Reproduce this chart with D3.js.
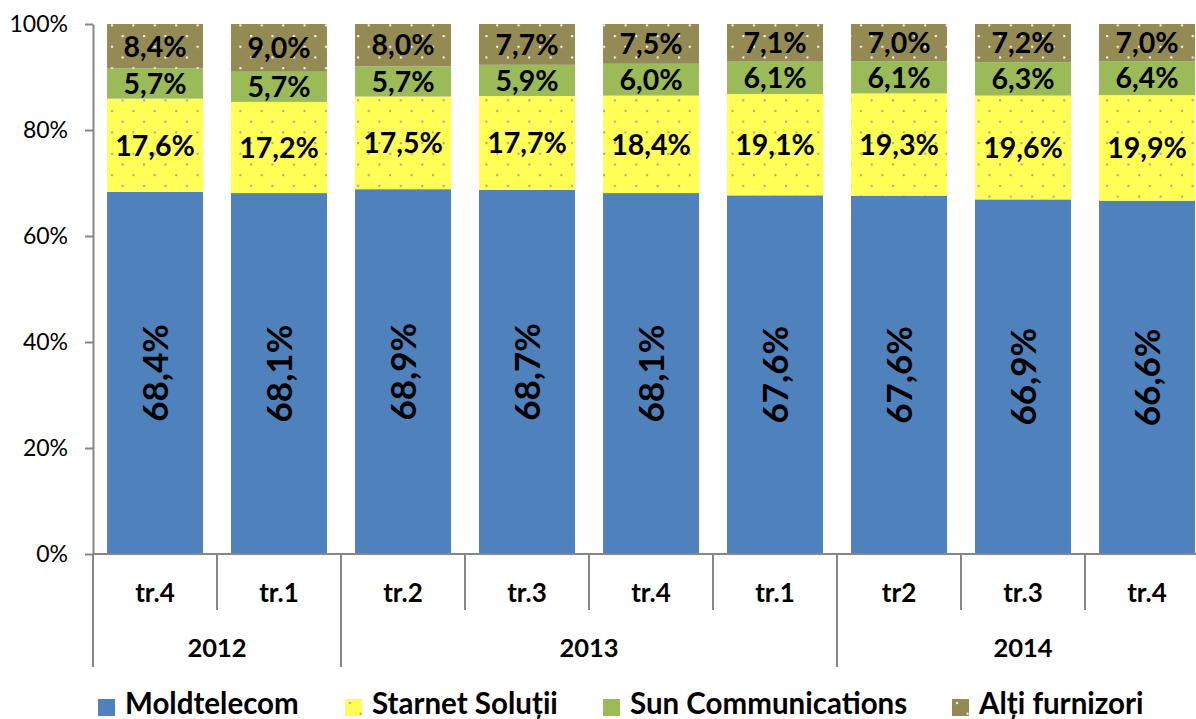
<!DOCTYPE html>
<html>
<head>
<meta charset="utf-8">
<script src="https://cdn.jsdelivr.net/npm/d3@7"></script>
<style>
  body { margin: 0; background: #fff; }
  svg { display: block; font-family: Lato, 'Noto Sans', sans-serif; }
</style>
</head>
<body>
<div id="chart"></div>
<script>

var quarters = ['tr.4', 'tr.1', 'tr.2', 'tr.3', 'tr.4', 'tr.1', 'tr2', 'tr.3', 'tr.4'];
var yearLabels = ['2012', '2013', '2014'];
var yearCounts = [2, 4, 3];

var seriesNames = ['Moldtelecom', 'Starnet Soluții', 'Sun Communications', 'Alți furnizori'];
var moldtelecom = [68.4, 68.1, 68.9, 68.7, 68.1, 67.6, 67.6, 66.9, 66.6];
var starnet = [17.6, 17.2, 17.5, 17.7, 18.4, 19.1, 19.3, 19.6, 19.9];
var sun = [5.7, 5.7, 5.7, 5.9, 6.0, 6.1, 6.1, 6.3, 6.4];
var altii = [8.4, 9.0, 8.0, 7.7, 7.5, 7.1, 7.0, 7.2, 7.0];
var yTicks = [0, 0.2, 0.4, 0.6, 0.8, 1];

var settings = {
  width: 1196,
  height: 719,
  left: 93,
  right: 1209,
  top: 24,
  bottom: 554,
  colors: ['#4f81bd', '#ffff55', '#9bbb59', '#948a54'],
  axisColor: '#868686'
};

function translate(x, y) {
  return 'translate(' + x + ',' + y + ')';
}

function fmt(v) {
  return v.toFixed(1).replace('.', ',') + '%';
}

var svg = d3.select('#chart').append('svg')
  .attr('width', settings.width)
  .attr('height', settings.height);

// dotted fills like the excel patterns
var defs = svg.append('defs');

function dotPattern(id, bg, dot) {
  var p = defs.append('pattern')
    .attr('id', id)
    .attr('patternUnits', 'userSpaceOnUse')
    .attr('width', 21.4)
    .attr('height', 21.4);
  p.append('rect').attr('width', 21.4).attr('height', 21.4).attr('fill', bg);
  p.append('rect').attr('x', 4).attr('y', 3).attr('width', 2).attr('height', 2).attr('fill', dot);
  p.append('rect').attr('x', 14.7).attr('y', 13.7).attr('width', 2).attr('height', 2).attr('fill', dot);
}

dotPattern('dots-yellow', settings.colors[1], '#a0a0a0');
dotPattern('dots-olive', settings.colors[3], '#ffffff');

var fills = [settings.colors[0], 'url(#dots-yellow)', settings.colors[2], 'url(#dots-olive)'];

var rows = quarters.map(function(q, i) {
  var vals = [moldtelecom[i], starnet[i], sun[i], altii[i]];
  var r = { 'idx': i, 'quarter': q, 'total': d3.sum(vals) };
  vals.forEach(function(v, k) { r['s' + k] = v; });
  return r;
});

var keys = ['s0', 's1', 's2', 's3'];
var layers = d3.stack().keys(keys)
  .value(function(d, key) { return d[key] / d.total; })(rows);

var x = d3.scaleBand()
  .domain(d3.range(quarters.length))
  .range([settings.left, settings.right])
  .paddingInner(0.226)
  .paddingOuter(0.113);

var y = d3.scaleLinear()
  .domain([0, 1])
  .range([settings.bottom, settings.top]);

// bars
var layer = svg.append('g').selectAll('g')
  .data(layers)
  .enter().append('g')
  .attr('fill', function(d, i) { return fills[i]; });

layer.selectAll('rect')
  .data(function(d) { return d; })
  .enter().append('rect')
  .attr('x', function(d) { return x(d.data.idx); })
  .attr('width', x.bandwidth())
  .attr('y', function(d) { return y(d[1]); })
  .attr('height', function(d) { return y(d[0]) - y(d[1]); });

// value labels
layers.forEach(function(l, k) {
  svg.append('g')
    .attr('font-weight', 'bold')
    .attr('fill', '#000')
    .attr('text-anchor', 'middle')
    .selectAll('text')
    .data(l)
    .enter().append('text')
    .attr('dy', '0.36em')
    .attr('font-size', k === 0 ? 35 : 28.5)
    .attr('transform', function(d) {
      var cx = x(d.data.idx) + x.bandwidth() / 2;
      var cy = (y(d[0]) + y(d[1])) / 2;
      return k === 0 ? translate(cx, cy) + ' rotate(-90)' : translate(cx, cy);
    })
    .text(function(d) { return fmt(d.data[keys[k]]); });
});

// y axis
var yAxis = d3.axisLeft(y)
  .tickValues(yTicks)
  .tickFormat(d3.format('.0%'))
  .tickSizeInner(8)
  .tickSizeOuter(0)
  .tickPadding(17);

var gy = svg.append('g')
  .attr('transform', translate(settings.left, 0))
  .call(yAxis);

gy.selectAll('line, path').attr('stroke', settings.axisColor).attr('stroke-width', 2);
gy.selectAll('text')
  .attr('font-size', 23)
  .attr('font-family', 'Lato, sans-serif')
  .attr('fill', '#000');

// x axis: baseline, quarter separators, year separators
var step = x.step();
var gx = svg.append('g').attr('stroke', settings.axisColor).attr('stroke-width', 2);

gx.append('line')
  .attr('x1', settings.left).attr('x2', settings.right)
  .attr('y1', settings.bottom).attr('y2', settings.bottom);

var yearEdges = [0];
yearCounts.forEach(function(c) { yearEdges.push(yearEdges[yearEdges.length - 1] + c); });

d3.range(quarters.length + 1).forEach(function(i) {
  var px = settings.left + i * step;
  gx.append('line')
    .attr('x1', px).attr('x2', px)
    .attr('y1', settings.bottom)
    .attr('y2', yearEdges.indexOf(i) > -1 ? 667 : 610);
});

svg.append('g')
  .attr('font-weight', 'bold')
  .attr('font-size', 26)
  .attr('text-anchor', 'middle')
  .selectAll('text')
  .data(quarters)
  .enter().append('text')
  .attr('x', function(d, i) { return x(i) + x.bandwidth() / 2; })
  .attr('y', 593)
  .attr('dy', '0.36em')
  .text(function(d) { return d; });

svg.append('g')
  .attr('font-weight', 'bold')
  .attr('font-size', 25.5)
  .attr('text-anchor', 'middle')
  .selectAll('text')
  .data(yearLabels)
  .enter().append('text')
  .attr('x', function(d, i) {
    return settings.left + step * (yearEdges[i] + yearCounts[i] / 2);
  })
  .attr('y', 648)
  .attr('dy', '0.36em')
  .text(function(d) { return d; });

// legend
var legendX = [98, 345, 603, 952];
var legend = svg.append('g').selectAll('g')
  .data(seriesNames)
  .enter().append('g')
  .attr('transform', function(d, i) { return translate(legendX[i], 699); });

legend.append('rect')
  .attr('width', 17)
  .attr('height', 17)
  .attr('fill', function(d, i) { return fills[i]; });

legend.append('text')
  .attr('x', 27)
  .attr('y', 15)
  .attr('font-weight', 'bold')
  .attr('font-size', 29.5)
  .text(function(d) { return d; });

</script>
</body>
</html>
